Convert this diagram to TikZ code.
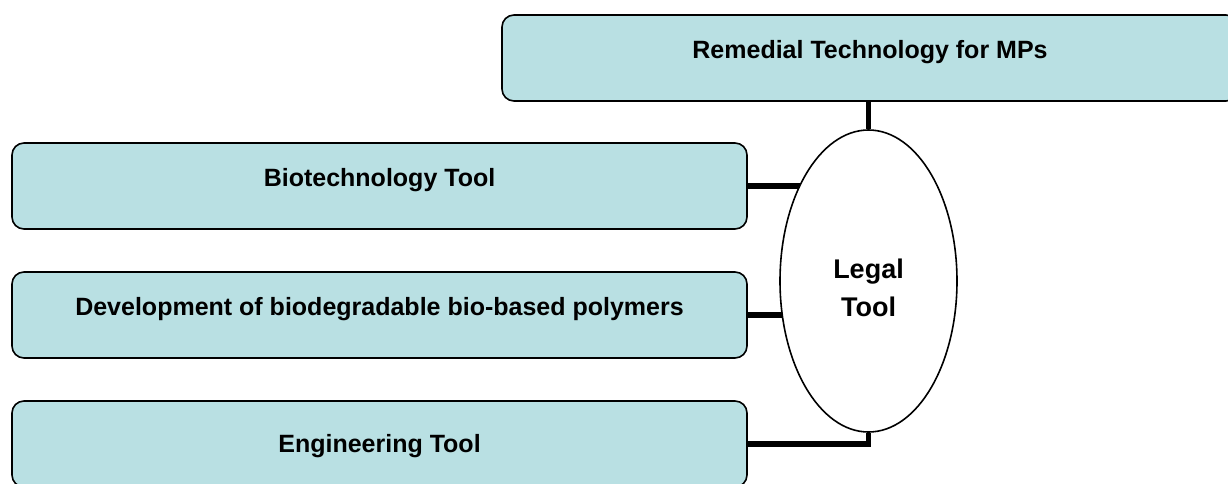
\documentclass[tikz,border=0pt]{standalone}
\usepackage{fontspec}
\setmainfont{Liberation Sans}
\usetikzlibrary{shapes.geometric}
\pgfdeclarelayer{background}
\pgfsetlayers{background,main}
\definecolor{boxfill}{RGB}{185,224,227}
\begin{document}
\begin{tikzpicture}[x=1pt,y=-1pt,
  lbl/.style={font=\fontsize{25}{30}\selectfont\bfseries},
  box/.style={lbl, draw=black, line width=1.6pt, fill=boxfill, rounded corners=12pt,
    minimum width=735pt, minimum height=86pt, inner sep=0pt, text height=0pt, text depth=0pt},
  hub/.style={font=\fontsize{27}{32}\selectfont\bfseries, ellipse, draw=black, line width=1.6pt, fill=white,
    minimum width=177pt, minimum height=302pt, inner sep=0pt, text height=0pt, text depth=0pt},
  link/.style={line width=5.5pt, draw=black}]
\clip (0,0) rectangle (1228,483);
\node[box, minimum width=736pt] (top) at (870,58) {Remedial Technology for MPs};
\node[box] (bio) at (379.5,186) {Biotechnology Tool};
\node[box] (dev) at (379.5,315) {Development of biodegradable bio-based polymers};
\node[box] (eng) at (379.5,444) {\raisebox{-8pt}{Engineering Tool}};
\node[hub] (legal) at (868.5,281) {\raisebox{-16pt}{\begin{tabular}{@{}c@{}}Legal\\[6pt]Tool\end{tabular}}};
\begin{pgfonlayer}{background}
  \draw[link] (legal.north |- top.south) -- (legal.north);
  \draw[link] (bio.east) -- (bio.east -| legal.center);
  \draw[link] (dev.east) -- (dev.east -| legal.center);
  \draw[link] (eng.east) -| (legal.south);
\end{pgfonlayer}
\end{tikzpicture}
\end{document}
